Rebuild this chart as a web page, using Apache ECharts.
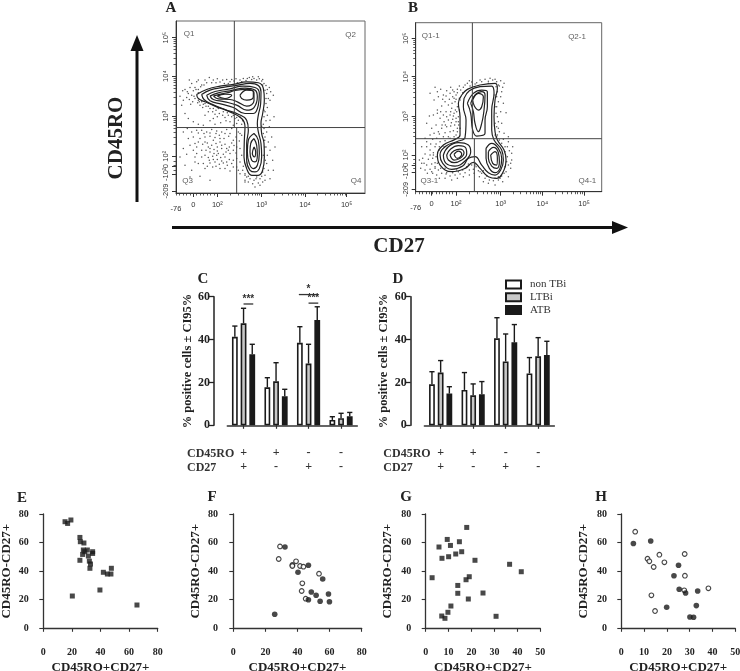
<!DOCTYPE html>
<html><head><meta charset="utf-8">
<style>html,body{margin:0;padding:0;background:#fff}#c{width:740px;height:671px}</style>
<script src="https://cdn.jsdelivr.net/npm/echarts@6/dist/echarts.min.js"></script>
</head><body><div id="c"></div>
<script>
// ---------- DATA ----------
// Flow plots use a display-channel scale (biexponential axes read as channels).
const flowAXTicks = [[138,'-76'],[190,'0'],[262,'10²'],[395,'10³'],[525,'10⁴'],[650,'10⁵']];
const flowAYTicks = [[113,'10⁵'],[228,'10⁴'],[348,'10³'],[468,'10²'],[498,'0'],[522,'-10²'],[572,'-209']];
const flowBXTicks = [[107,'-76'],[155,'0'],[228,'10²'],[362,'10³'],[487,'10⁴'],[612,'10⁵']];
const flowBYTicks = [[115,'10⁵'],[230,'10⁴'],[350,'10³'],[465,'10²'],[495,'0'],[517,'-10²'],[568,'-209']];
const flowAQuadLines = [[[313,63],[313,382]],[[320,382],[320,578]],[[138,382],[705,382]]];
const flowBQuadLines = [[[277,68],[277,416]],[[283,416],[283,575]],[[107,416],[665,416]]];
const flowAQuadLabels = [[177,100,'Q1'],[662,103,'Q2'],[173,540,'Q3'],[678,540,'Q4']];
const flowBQuadLabels = [[152,108,'Q1-1'],[591,110,'Q2-1'],[148,543,'Q3-1'],[622,543,'Q4-1']];
const flowAContours = [
 [[200,283],[230,268],[270,258],[310,253],[350,245],[385,248],[400,265],[403,300],[398,340],[393,370],[395,400],[402,430],[403,470],[398,510],[385,525],[365,525],[350,505],[342,470],[343,420],[345,380],[335,355],[300,335],[260,320],[225,305],[205,295],[200,283]],
 [[215,283],[240,270],[280,262],[320,256],[360,250],[385,256],[393,275],[392,310],[385,345],[382,370],[385,395],[393,430],[395,470],[388,505],[375,515],[360,510],[350,480],[350,430],[355,390],[350,360],[325,342],[285,328],[245,312],[222,298],[215,283]],
 [[230,285],[255,274],[295,267],[340,258],[375,262],[388,280],[385,315],[370,340],[345,340],[310,322],[275,312],[240,302],[230,285]],
 [[240,288],[265,278],[300,272],[345,264],[375,270],[382,290],[372,322],[350,330],[320,315],[285,305],[250,298],[240,288]],
 [[250,288],[275,281],[300,276],[315,271],[350,268],[372,278],[372,302],[350,318],[322,305],[300,298],[265,296],[250,288]],
 [[262,288],[285,282],[305,285],[285,295],[262,288]],
 [[330,285],[350,270],[370,275],[370,290],[350,300],[335,295],[330,285]],
 [[372,400],[385,420],[388,460],[382,495],[370,505],[358,490],[352,455],[355,420],[372,400]],
 [[372,415],[380,435],[382,465],[375,485],[365,480],[360,455],[362,430],[372,415]],
 [[372,440],[377,455],[373,470],[367,460],[372,440]]
];
const flowADots = [[178,240],[200,245],[215,255],[230,248],[238,232],[250,240],[262,236],[270,246],[283,250],[290,238],[300,245],[312,243],[322,248],[330,240],[340,235],[348,241],[358,232],[365,238],[372,235],[380,240],[388,236],[395,243],[402,250],[408,256],[412,268],[410,280],[418,262],[430,285],[415,295],[408,310],[412,322],[405,335],[402,350],[408,362],[400,372],[165,268],[172,275],[180,262],[185,285],[170,292],[178,298],[190,272],[195,262],[205,268],[212,260],[222,255],[188,305],[195,295],[203,308],[182,312],[210,315],[218,322],[228,318],[240,325],[235,335],[225,345],[248,335],[258,330],[268,340],[278,345],[262,350],[250,355],[285,352],[295,345],[305,350],[315,355],[325,360],[300,365],[288,362],[272,368],[255,372],[240,362],[335,372],[320,370],[310,375],[215,390],[230,395],[245,388],[260,392],[275,395],[290,388],[305,385],[325,395],[335,405],[190,410],[210,415],[225,410],[240,408],[255,412],[268,405],[282,415],[296,408],[310,420],[328,422],[180,435],[200,440],[218,432],[232,428],[245,435],[258,430],[270,425],[285,432],[298,440],[312,436],[330,445],[170,462],[228,450],[240,455],[252,448],[262,452],[275,445],[288,455],[300,460],[318,458],[335,465],[195,485],[215,470],[235,472],[248,468],[260,465],[272,472],[285,470],[298,478],[310,480],[330,485],[205,490],[240,488],[255,485],[268,492],[280,488],[292,495],[320,500],[340,498],[225,505],[270,505],[300,512],[240,540],[210,528],[185,510],[330,520],[410,395],[405,410],[415,425],[408,440],[420,450],[412,465],[428,480],[410,490],[402,505],[415,510],[405,525],[395,528],[390,535],[380,530],[372,540],[360,535],[350,530],[368,550],[385,548],[398,545],[345,520],[338,510],[402,385],[395,378],[420,360],[432,350],[205,278],[198,268],[192,288],[205,300],[215,305],[225,310],[398,255],[405,270],[408,295],[402,330],[400,400],[406,480],[398,515],[265,325],[280,335],[292,338],[310,345],[320,352],[338,362],[250,325],[235,318],[220,312],[208,305],[330,350],[255,342],[345,525],[355,528],[378,535],[404,440],[404,420],[400,465],
 [225,425],[235,440],[250,420],[262,440],[275,435],[290,445],[305,428],[320,440],[240,445],[252,460],[265,460],[280,462],[295,450],[310,450],[225,465],[238,480],[250,478],[262,478],[275,482],[290,485],[305,490],[320,475],[200,460],[190,450],[215,450],[205,425],[195,430],[175,415],[160,445],[150,470],[165,495],[180,530],[195,470],[220,490],[232,498],[248,500],[258,498],[285,505],[310,500],[325,510],[345,545],[330,400],[318,410],[300,400],[285,400],[270,415],[258,400],[240,398],[222,400],[205,398],[200,390],[185,395],[172,385],[160,395],[220,375],[205,372],[190,365],[175,355],[165,340],[155,315],[150,288],[160,300],[175,280],[185,250],[158,272],[205,240],[225,240],[245,248],[258,248],[278,240],[295,250],[305,238],[318,236],[335,245],[352,235],[368,230],[385,230],[398,238],[422,275],[420,300],[412,345],[418,380],[425,410],[435,440],[430,510],[420,535],[405,540],[355,545],[375,560],[390,555],[345,540]];
const flowBContours = [
 [[245,285],[262,268],[300,255],[345,250],[352,265],[345,300],[342,350],[345,395],[352,420],[372,450],[378,480],[372,510],[350,535],[325,530],[300,505],[280,487],[255,505],[215,515],[180,495],[172,465],[190,435],[225,418],[240,405],[240,350],[235,310],[245,285]],
 [[252,295],[268,272],[300,260],[335,258],[342,280],[335,330],[335,390],[342,420],[365,450],[370,480],[362,510],[345,525],[325,518],[305,495],[285,470],[265,475],[248,498],[215,508],[188,490],[180,465],[198,438],[230,425],[255,412],[258,360],[250,320],[252,295]],
 [[262,310],[280,280],[305,270],[322,275],[322,320],[315,360],[315,400],[290,408],[278,390],[272,340],[262,310]],
 [[272,310],[285,285],[305,275],[315,285],[312,330],[305,370],[295,395],[285,370],[280,335],[272,310]],
 [[278,300],[295,280],[310,290],[305,320],[295,330],[283,318],[278,300]],
 [[190,465],[205,440],[235,428],[265,435],[272,455],[258,480],[225,498],[198,490],[190,465]],
 [[200,465],[212,447],[235,437],[258,445],[260,462],[245,480],[222,488],[205,480],[200,465]],
 [[210,465],[222,452],[240,447],[252,458],[240,475],[222,480],[210,465]],
 [[222,463],[235,453],[245,462],[232,475],[222,463]],
 [[318,445],[335,430],[355,445],[365,475],[360,505],[345,518],[328,505],[318,475],[318,445]],
 [[325,455],[340,442],[355,458],[358,485],[350,505],[335,498],[325,475],[325,455]],
 [[332,465],[345,455],[352,475],[350,495],[338,490],[332,465]]
];
const flowBDots = [[165,262],[172,275],[182,268],[190,285],[200,272],[212,262],[222,275],[232,268],[238,258],[250,262],[262,250],[275,246],[290,248],[305,245],[315,238],[325,244],[338,240],[350,245],[362,242],[358,258],[368,262],[352,275],[362,290],[355,305],[350,320],[362,335],[352,350],[378,338],[355,365],[350,380],[358,395],[352,405],[148,348],[160,345],[172,330],[185,318],[195,305],[208,298],[218,290],[228,285],[205,315],[215,325],[225,305],[232,320],[198,335],[210,345],[222,340],[230,335],[180,355],[192,365],[205,360],[218,358],[228,355],[235,365],[168,375],[185,385],[200,380],[212,378],[224,375],[232,385],[178,402],[195,398],[210,395],[220,392],[228,405],[205,410],[140,425],[152,432],[165,440],[150,450],[135,462],[160,458],[128,475],[145,478],[158,475],[125,490],[140,495],[155,492],[165,488],[135,510],[150,508],[165,505],[175,510],[170,525],[185,520],[198,522],[210,528],[225,525],[240,522],[255,518],[268,510],[280,508],[288,500],[295,512],[305,520],[315,535],[328,540],[340,542],[355,540],[365,528],[378,515],[385,495],[382,470],[388,452],[375,440],[365,430],[358,420],[370,418],[385,425],[395,460],[392,505],[180,425],[195,422],[210,415],[222,410],[232,395],[240,385],[238,295],[228,298],[216,310],[192,440],[178,450],[168,470],[172,490],[182,505],[200,518],[218,518],[235,515],[248,510],[265,492],[275,495],[310,512],[320,528],[345,535],[360,535],[372,520],[380,485],[375,455],[345,405],[348,340],[345,285],[355,255],[270,258],[285,252],[325,250],[248,278],[240,300],
 [150,280],[162,300],[175,290],[188,298],[198,288],[210,280],[218,270],[140,370],[155,385],[162,400],[172,340],[182,335],[190,345],[200,350],[212,335],[226,330],[220,348],[214,368],[196,375],[186,375],[175,395],[150,405],[135,415],[125,440],[118,480],[122,505],[142,520],[158,520],[178,535],[195,535],[215,540],[232,535],[250,530],[268,525],[282,520],[298,530],[310,545],[325,550],[345,555],[368,545],[385,530],[395,480],[398,440],[385,410],[372,400],[365,370],[370,310],[365,275],[372,250],[345,238],[330,235],[300,240],[268,242],[255,255],[242,270],[232,278],[222,295],[190,410],[170,415],[158,418],[168,432],[178,440],[160,465],[150,465],[165,500],[155,515],[140,440],[132,490],[195,505],[230,510],[260,500],[285,495],[300,515],[355,530],[375,500],[392,490],[382,440],[350,410],[355,385],[345,370],[345,320],[350,290],[348,260],[235,350],[238,330],[236,375],[228,365]];
const groupRow1 = ['+','+','-','-'];
const groupRow2 = ['+','-','+','-'];
const barNames = ['non TBi','LTBi','ATB'];
const cNonTB = [41.3,17.7,38.5,2.5];
const cLTB   = [47.6,20.5,28.8,3.3];
const cATB   = [33.1,13.5,49.1,4.2];
const cNonTBHi = [46.3,22.2,46,4];
const cLTBHi   = [54.6,29.2,37.8,5.6];
const cATBHi   = [37.8,16.8,55.3,6];
const dNonTB = [19.1,16.5,40.6,24.2];
const dLTB   = [24.6,14,29.8,32.2];
const dATB   = [14.8,14.5,38.7,32.8];
const dNonTBHi = [25,24.6,50.2,31.6];
const dLTBHi   = [30.2,19.3,42.6,40.9];
const dATBHi   = [18,20.4,47,39.2];
// group index, from-bar, to-bar, level, stars
const cSig = [[0,1,2,56.6,'***'],[2,0,2,61,'*'],[2,1,2,57,'***']];
const eSquares = [[15.2,74.6],[17,73.4],[19.3,75.8],[25.6,63.6],[25.9,60.6],[28.4,59.7],[20.3,22.6],[39.6,26.8],[65.5,16.3],[47.6,42],[47.3,38],[44.8,38],[42,39.2],[25.6,47.6],[27.5,51.7],[28,54.8],[30.8,54.8],[31.5,50.6],[34.5,52.4],[34.5,53.6],[32.2,47],[33,45],[32.6,42],[29,53.6]];
const fFilled = [[32.2,56.9],[46.8,44.1],[40.3,39.2],[55.7,34.5],[48.6,25.4],[51.6,23.1],[59.3,24],[59.9,18.6],[54.1,18.9],[46.8,20],[25.8,9.8]];
const fOpen = [[29.1,57.3],[28.3,48.5],[36.8,44.3],[39.1,46.9],[41.6,43.6],[43.7,43.1],[53.4,38.2],[43,31.5],[42.6,26.1],[45.1,20.7],[36.8,43.6]];
const gSquares = [[17.9,70.6],[9.4,62.2],[14.7,60.6],[10.8,58],[5.8,56.9],[7.1,49],[10,50.1],[13.1,52],[15.7,53.6],[21.5,47.6],[2.8,35.4],[36.6,44.8],[41.7,39.6],[19,36.1],[17.6,34],[14,30],[14,24.5],[25,24.7],[18.6,20.5],[11,15.6],[9.7,11.2],[7,8.6],[8.4,7],[30.7,8.4]];
const hFilled = [[5.3,59.4],[12.9,61.1],[25.1,44.1],[23.1,36.8],[25.4,27.3],[28.2,24.7],[33.5,26.1],[32.9,15.9],[19.9,14.7],[30.1,7.9],[31.7,7.7]];
const hOpen = [[6.1,67.6],[11.5,48.7],[12.3,46.9],[14.2,42.9],[16.7,51.5],[18.9,46.2],[27.8,52],[27.9,36.8],[27.6,26.6],[38.2,28],[13.2,23.1],[14.8,12.1]];

// ---------- BUILD ----------
const SERIF='"Liberation Serif","Times New Roman",serif', SANS='"Liberation Sans",Arial,sans-serif';
const INK='#222';
const grid=[],xAxis=[],yAxis=[],series=[],graphic=[];

function minorTicks(majors){ // log-spaced axis ticks between decade channels
  const out=[];
  for(let i=0;i<majors.length-1;i++){
    for(let k=2;k<10;k++) out.push(majors[i]+(majors[i+1]-majors[i])*Math.log10(k));
  }
  return out;
}
function linTicks(a,b,n){const o=[];for(let i=0;i<=n;i++)o.push(a+(b-a)*i/n);return o;}

function flowPanel(o){
  const g=grid.length;
  grid.push({outerBoundsMode:'none',left:o.box[0],top:o.box[1],width:o.box[2]-o.box[0],height:o.box[3]-o.box[1],show:true,borderColor:'#666',borderWidth:1,backgroundColor:'transparent'});
  const lab=(map)=>(v)=>{const f=map.find(t=>Math.abs(t[0]-v)<0.01);if(!f)return '';return f[1]==='-76'?'{low|-76}':f[1];};
  const xAll=o.xT.map(t=>t[0]),yAll=o.yT.map(t=>t[0]);
  const xi=xAxis.length, yi=yAxis.length;
  const base={type:'value',splitLine:{show:false},scale:true};
  xAxis.push({...base,gridIndex:g,position:'bottom',min:o.xr[0],max:o.xr[1],
    axisLine:{show:true,lineStyle:{color:'#333',width:1}},
    axisTick:{show:true,length:4,customValues:xAll.slice(1),lineStyle:{color:'#333',width:1}},
    axisLabel:{show:true,customValues:xAll,formatter:lab(o.xT),color:'#333',fontSize:7.5,fontFamily:SANS,margin:8,hideOverlap:false,showMinLabel:true,showMaxLabel:true,
      rich:{low:{fontSize:7.5,fontFamily:SANS,color:'#333',padding:[4,0,0,0]}}}});
  xAxis.push({...base,gridIndex:g,position:'bottom',min:o.xr[0],max:o.xr[1],
    axisLine:{show:false},axisLabel:{show:false},
    axisTick:{show:true,length:2.5,customValues:linTicks(o.xr[0],xAll[2],12).concat(minorTicks(xAll.slice(2))),lineStyle:{color:'#333',width:.8}}});
  yAxis.push({...base,gridIndex:g,position:'left',inverse:true,min:o.yr[0],max:o.yr[1],
    axisLine:{show:true,lineStyle:{color:'#333',width:1}},
    axisTick:{show:true,length:4,customValues:yAll,lineStyle:{color:'#333',width:1}},
    axisLabel:{show:true,rotate:90,customValues:yAll,formatter:lab(o.yT),color:'#333',fontSize:7.5,fontFamily:SANS,margin:6,hideOverlap:false,showMinLabel:true,showMaxLabel:true}});
  yAxis.push({...base,gridIndex:g,position:'left',inverse:true,min:o.yr[0],max:o.yr[1],
    axisLine:{show:false},axisLabel:{show:false},
    axisTick:{show:true,length:2.5,customValues:minorTicks(yAll.slice(0,4).reverse()).concat(linTicks(yAll[3],yAll[5],4)),lineStyle:{color:'#333',width:.8}}});
  const onAxes={xAxisIndex:xi,yAxisIndex:yi};
  series.push({type:'scatter',...onAxes,data:o.dots,symbol:'circle',symbolSize:1.5,itemStyle:{color:'#2a2a2a'},silent:true,animation:false});
  o.contours.forEach(c=>series.push({type:'line',...onAxes,data:c,smooth:.45,showSymbol:false,symbol:'none',lineStyle:{color:'#222',width:1.2},silent:true,animation:false}));
  o.quad.forEach(q=>series.push({type:'line',...onAxes,data:q,showSymbol:false,symbol:'none',lineStyle:{color:'#444',width:1},silent:true,animation:false}));
  series.push({type:'scatter',...onAxes,symbolSize:0,data:o.qLabels.map(q=>({value:[q[0],q[1]],label:{show:true,position:'inside',formatter:q[2],color:'#333',fontSize:8,fontFamily:SANS}})),silent:true,animation:false});
}
flowPanel({box:[176,21,365,193],xr:[138,705],yr:[63,578],xT:flowAXTicks,yT:flowAYTicks,dots:flowADots,contours:flowAContours,quad:flowAQuadLines,qLabels:flowAQuadLabels});
flowPanel({box:[415.7,22.7,601.7,191.7],xr:[107,665],yr:[68,575],xT:flowBXTicks,yT:flowBYTicks,dots:flowBDots,contours:flowBContours,quad:flowBQuadLines,qLabels:flowBQuadLabels});

const yAxisText={fontFamily:SERIF,fontWeight:'bold',color:INK};
function barPanel(o){
  const g=grid.length;
  grid.push({outerBoundsMode:'none',left:o.left,top:296.7,width:130,height:128.6});
  const xi=xAxis.length,yi=yAxis.length;
  xAxis.push({type:'category',gridIndex:g,position:'bottom',offset:14.7,data:groupRow1.map((a,i)=>a+'\n'+groupRow2[i]),
    axisLine:{show:true,lineStyle:{color:'#333',width:1.5}},axisTick:{show:true,alignWithLabel:true,length:3.5,lineStyle:{color:'#333',width:1.2}},
    axisLabel:{...yAxisText,fontSize:12,lineHeight:14,margin:6,interval:0,color:'#333'},splitLine:{show:false}});
  yAxis.push({type:'value',gridIndex:g,position:'left',offset:o.yOff,min:0,max:60,interval:20,
    axisLine:{show:true,lineStyle:{color:INK,width:1.5}},axisTick:{show:true,length:5,lineStyle:{color:INK,width:1.3}},
    axisLabel:{...yAxisText,fontSize:12,margin:4},splitLine:{show:false},
    name:'% positive cells ± CI95%',nameLocation:'middle',nameGap:20,nameTextStyle:{...yAxisText,fontSize:12.5}});
  const fills=['#ffffff','#c8c8c8','#1a1a1a'];
  o.vals.forEach((v,i)=>series.push({type:'bar',name:barNames[i],xAxisIndex:xi,yAxisIndex:yi,data:v,barWidth:5.8,barGap:'50%',
    itemStyle:{color:fills[i],borderColor:'#1a1a1a',borderWidth:1.6},silent:true,animation:false}));
  const STEP=8.7;
  o.his.forEach((hi,i)=>series.push({type:'custom',xAxisIndex:xi,yAxisIndex:yi,silent:true,animation:false,z:1,
    data:hi.map((h,k)=>[k,o.vals[i][k],h]),
    renderItem:(p,api)=>{
      const top=api.coord([api.value(0),api.value(2)]),bot=api.coord([api.value(0),api.value(1)]);
      const x=top[0]+(i-1)*STEP;const st={stroke:'#1a1a1a',lineWidth:1.4};
      return {type:'group',children:[
        {type:'line',shape:{x1:x,y1:bot[1],x2:x,y2:top[1]},style:st},
        {type:'line',shape:{x1:x-2.6,y1:top[1],x2:x+2.6,y2:top[1]},style:st}]};
    }}));
  if(o.sig) series.push({type:'custom',xAxisIndex:xi,yAxisIndex:yi,silent:true,animation:false,
    data:o.sig.map(s=>[s[0],s[1],s[2],s[3]]),
    renderItem:(p,api)=>{
      const s=o.sig[p.dataIndex];
      const c=api.coord([s[0],s[3]]);
      const x1=c[0]+(s[1]-1)*STEP-(s[1]==0?1:0),x2=c[0]+(s[2]-1)*STEP+1;
      return {type:'group',children:[
        {type:'line',shape:{x1:x1,y1:c[1],x2:x2,y2:c[1]},style:{stroke:'#333',lineWidth:1.3}},
        {type:'text',style:{text:s[4],x:(x1+x2)/2,y:c[1]-1,align:'center',verticalAlign:'bottom',fontSize:10,lineHeight:8,fontFamily:SANS,fontWeight:'bold',fill:'#333'}}]};
    }});
}
barPanel({left:227.3,yOff:13.3,vals:[cNonTB,cLTB,cATB],his:[cNonTBHi,cLTBHi,cATBHi],sig:cSig});
barPanel({left:424.4,yOff:13.7,vals:[dNonTB,dLTB,dATB],his:[dNonTBHi,dLTBHi,dATBHi]});

function scatterPanel(o){
  const g=grid.length;
  grid.push({outerBoundsMode:'none',left:o.left,top:514,width:o.width,height:114.3});
  const xi=xAxis.length,yi=yAxis.length;
  xAxis.push({type:'value',gridIndex:g,position:'bottom',offset:12.7,min:0,max:o.xMax,interval:o.xInt,
    axisLine:{show:true,lineStyle:{color:'#333',width:1.3}},axisTick:{show:true,length:3.5,lineStyle:{color:'#333',width:1.1}},
    axisLabel:{...yAxisText,fontSize:10,margin:6},splitLine:{show:false},
    name:'CD45RO+CD27+',nameLocation:'middle',nameGap:20,nameTextStyle:{...yAxisText,fontSize:13}});
  yAxis.push({type:'value',gridIndex:g,position:'left',offset:o.left-o.axisX,min:0,max:80,interval:20,
    axisLine:{show:true,lineStyle:{color:'#333',width:1.3}},axisTick:{show:true,length:4,lineStyle:{color:'#333',width:1.1}},
    axisLabel:{...yAxisText,fontSize:10,margin:2},splitLine:{show:false},
    name:'CD45RO-CD27+',nameLocation:'middle',nameGap:o.nameGap,nameTextStyle:{...yAxisText,fontSize:13}});
  (o.sets).forEach(s=>series.push({type:'scatter',xAxisIndex:xi,yAxisIndex:yi,data:s.data,symbol:s.sym,symbolSize:s.size,
    itemStyle:s.open?{color:'#fff',borderColor:'#1a1a1a',borderWidth:1.2}:{color:'#1a1a1a'},silent:true,animation:false}));
}
scatterPanel({left:43.3,width:114.4,axisX:30.7,xMax:80,xInt:20,nameGap:17.5,sets:[{data:eSquares,sym:'rect',size:5}]});
scatterPanel({left:233.3,width:128.4,axisX:220,xMax:80,xInt:20,nameGap:18,sets:[{data:fOpen,sym:'circle',size:4.6,open:true},{data:fFilled,sym:'circle',size:5.6}]});
scatterPanel({left:425.7,width:114.6,axisX:413.3,xMax:50,xInt:10,nameGap:19,sets:[{data:gSquares,sym:'rect',size:5}]});
scatterPanel({left:621.3,width:114,axisX:609,xMax:50,xInt:10,nameGap:19,sets:[{data:hOpen,sym:'circle',size:4.6,open:true},{data:hFilled,sym:'circle',size:5.6}]});

// Annotation text and arrows
const txt=(x,y,s,size,extra)=>graphic.push({type:'text',x:x,y:y,silent:true,style:{text:s,fontFamily:SERIF,fontWeight:'bold',fontSize:size,fill:INK,align:'center',verticalAlign:'middle',...extra}});
[['A',171,8],['B',413,8],['C',203,279],['D',398,279],['E',22,498],['F',212,497],['G',406,497],['H',601,497]].forEach(l=>txt(l[1],l[2],l[0],15));
txt(399,247,'CD27',21);
graphic.push({type:'text',x:117,y:138,rotation:Math.PI/2,silent:true,style:{text:'CD45RO',fontFamily:SERIF,fontWeight:'bold',fontSize:21,fill:INK,align:'center',verticalAlign:'middle'}});
[187,383.3].forEach(x=>{
  txt(x,453.5,'CD45RO',12,{align:'left',fill:'#333'});
  txt(x,467.5,'CD27',12,{align:'left',fill:'#333'});
});
// arrows
graphic.push({type:'line',silent:true,shape:{x1:137,y1:50,x2:137,y2:202},style:{stroke:'#111',lineWidth:3}});
graphic.push({type:'polygon',silent:true,shape:{points:[[137,35],[143.5,51],[130.5,51]]},style:{fill:'#111'}});
graphic.push({type:'line',silent:true,shape:{x1:172,y1:227.5,x2:614,y2:227.5},style:{stroke:'#111',lineWidth:3}});
graphic.push({type:'polygon',silent:true,shape:{points:[[628,227.5],[612,221],[612,234]]},style:{fill:'#111'}});

const chart=echarts.init(document.getElementById('c'),null,{renderer:'canvas'});
chart.setOption({
  animation:false,backgroundColor:'#fff',
  legend:{show:true,left:505,top:279,orient:'vertical',icon:'rect',itemWidth:15,itemHeight:8,itemGap:1.7,data:barNames,selectedMode:false,
    textStyle:{fontFamily:SERIF,fontSize:11,color:'#333',padding:[0,0,0,4]},padding:0},
  grid,xAxis,yAxis,series,graphic
});
</script></body></html>
